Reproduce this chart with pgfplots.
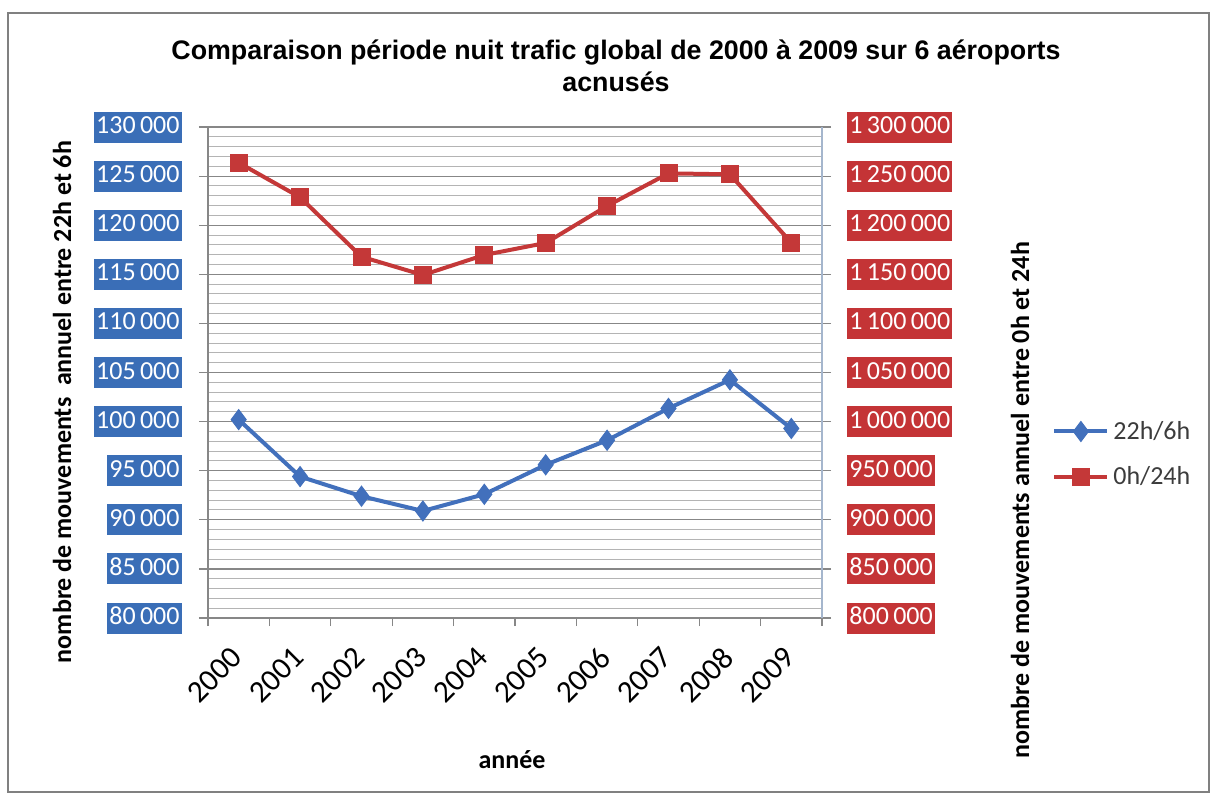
\documentclass[border=0pt]{standalone}
\usepackage{pgfplots}
\pgfplotsset{compat=1.18}
\usepackage{pgfplotstable}
\usepackage{fontspec}
\setmainfont{Carlito}
\newfontfamily\titlefont{Liberation Sans}
\definecolor{lineblue}{RGB}{66,112,188}
\definecolor{linered}{RGB}{196,56,56}
\definecolor{boxblue}{RGB}{58,110,183}
\definecolor{boxred}{RGB}{196,52,54}
\definecolor{majgrid}{RGB}{135,135,135}
\definecolor{mingrid}{RGB}{180,180,180}
\definecolor{rightaxis}{RGB}{165,182,205}
\definecolor{legtext}{RGB}{60,60,60}

\pgfplotstableread{
x y
0.5 100200
1.5 94400
2.5 92400
3.5 90900
4.5 92600
5.5 95600
6.5 98100
7.5 101350
8.5 104250
9.5 99300
}\nightdata

\pgfplotstableread{
x y
0.5 1263600
1.5 1228400
2.5 1167900
3.5 1149300
4.5 1169700
5.5 1181900
6.5 1219600
7.5 1252800
8.5 1251800
9.5 1182200
}\daydata

\begin{document}
\begin{tikzpicture}
\useasboundingbox (0,0) rectangle (605.5pt,400pt);
\fill[white] (0,0) rectangle (605.5pt,400pt);
\draw[gray, line width=0.8pt] (4pt,4pt) rectangle (604.5pt,393.5pt);

\begin{axis}[
  at={(104pt,91pt)}, anchor=south west,
  scale only axis, width=307pt, height=245.5pt,
  xmin=0, xmax=10, ymin=80000, ymax=130000,
  axis lines*=left,
  axis line style={draw=majgrid, line width=0.6pt, -},
  tick align=outside,
  major tick length=4.5pt,
  minor tick length=4pt,
  xtick={0.5,1.5,...,9.5},
  xticklabels={2000,2001,2002,2003,2004,2005,2006,2007,2008,2009},
  major x tick style={draw=none},
  minor xtick={0,1,...,10},
  minor x tick style={draw=majgrid, line width=0.6pt},
  ytick distance=5000,
  minor y tick num=4,
  minor y tick style={draw=none},
  major y tick style={draw=majgrid, line width=0.6pt},
  ymajorgrids, yminorgrids,
  major grid style={draw=majgrid, line width=0.6pt},
  minor grid style={draw=mingrid, line width=0.5pt},
  scaled y ticks=false,
  /pgf/number format/.cd, fixed, precision=0, 1000 sep={\,}, assume math mode=true,
  /pgfplots/.cd,
  yticklabel style={font=\fontsize{13}{15}\selectfont, fill=boxblue, text=white,
    inner xsep=1pt, inner ysep=2pt, text height=9pt, text depth=2.5pt,
    anchor=east, xshift=-8.5pt},
  xticklabel style={font=\fontsize{15.5}{18}\selectfont, inner sep=1pt, xshift=0pt, yshift=-12pt, rotate=45, anchor=east},
  clip=false,
]
\addplot[lineblue, line width=2pt, mark=diamond*, mark size=5pt,
  mark options={fill=lineblue, draw=lineblue, line width=0.5pt}] table[x=x,y=y] {\nightdata};
\end{axis}

\begin{axis}[
  at={(104pt,91pt)}, anchor=south west,
  scale only axis, width=307pt, height=245.5pt,
  xmin=0, xmax=10, ymin=800000, ymax=1300000,
  axis y line*=right, axis x line=none,
  axis line style={draw=rightaxis, line width=0.6pt, -},
  tick align=outside,
  major tick length=4.5pt,
  ytick distance=50000,
  major y tick style={draw=majgrid, line width=0.6pt},
  scaled y ticks=false,
  /pgf/number format/.cd, fixed, precision=0, 1000 sep={\,}, assume math mode=true,
  /pgfplots/.cd,
  yticklabel style={font=\fontsize{13}{15}\selectfont, fill=boxred, text=white,
    inner xsep=1pt, inner ysep=2pt, text height=9pt, text depth=2.5pt,
    anchor=west, xshift=8pt},
  legend image code/.code={\draw[mark repeat=2,mark phase=2,#1] plot coordinates {(0pt,0pt) (13.25pt,0pt) (26.5pt,0pt)};},
  legend style={at={(1.3746,0.334)}, anchor=west, draw=none, fill=none, inner sep=0pt,
    font=\fontsize{13}{15}\selectfont, text=legtext, row sep=8pt,
    /tikz/every even column/.append style={column sep=0pt}},
  legend cell align=left,
  clip=false,
]
\addlegendimage{lineblue, line width=2pt, mark=diamond*, mark size=5pt,
  mark options={fill=lineblue, draw=lineblue, line width=0.5pt}}
\addlegendentry{22h/6h}
\addplot[linered, line width=2pt, mark=square*, mark size=4.25pt,
  mark options={fill=linered, draw=linered, line width=0.5pt}] table[x=x,y=y] {\daydata};
\addlegendentry{0h/24h}
\end{axis}

\node[font=\titlefont\bfseries\fontsize{13.4}{16}\selectfont, align=center, text=black] at (308pt,367pt)
  {Comparaison période nuit trafic global de 2000 à 2009 sur 6 aéroports\\acnusés};
\node[font=\bfseries\fontsize{13}{15}\selectfont, rotate=90] at (31pt,199pt)
  {nombre de mouvements\ \ annuel entre 22h et 6h};
\node[font=\bfseries\fontsize{13}{15}\selectfont, rotate=90] at (510pt,150pt)
  {nombre de mouvements annuel entre 0h et 24h};
\node[font=\bfseries\fontsize{13}{15}\selectfont] at (256pt,20pt) {année};
\end{tikzpicture}
\end{document}
